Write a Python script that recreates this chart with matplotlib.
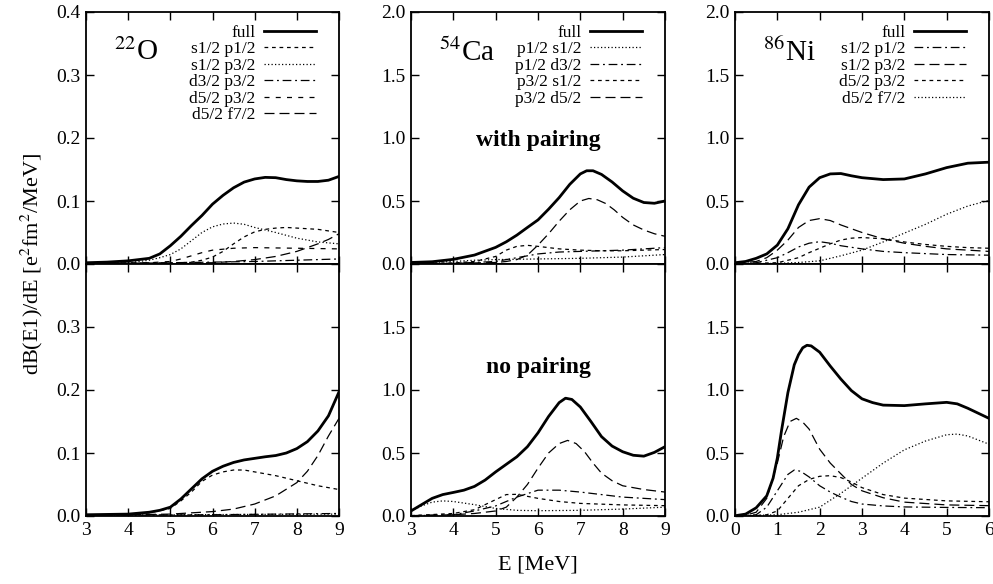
import matplotlib
matplotlib.use("Agg")
import matplotlib.pyplot as plt

plt.rcParams['font.family'] = ['Liberation Serif', 'DejaVu Serif']
plt.rcParams['mathtext.fontset'] = 'stix'

# ---- data: (E [MeV], dB/dE) ----
# 22O, with pairing
o22_p_full = [(3, 0.002), (3.5, 0.003), (4, 0.005), (4.5, 0.009), (4.75, 0.016), (5, 0.029), (5.25, 0.044),
              (5.5, 0.061), (5.75, 0.077), (6, 0.095), (6.25, 0.109), (6.5, 0.121), (6.75, 0.130), (7, 0.135),
              (7.25, 0.1375), (7.5, 0.137), (7.75, 0.134), (8, 0.132), (8.25, 0.131), (8.5, 0.131),
              (8.75, 0.133), (9, 0.139)]
o22_p_s12p12 = [(3, 0.001), (5, 0.001), (5.5, 0.003), (5.75, 0.006), (6, 0.011), (6.25, 0.02), (6.5, 0.032),
                (6.75, 0.043), (7, 0.051), (7.25, 0.055), (7.5, 0.057), (7.75, 0.058), (8, 0.057), (8.5, 0.055),
                (9, 0.05)]
o22_p_s12p32 = [(3, 0.001), (4, 0.002), (4.5, 0.006), (4.75, 0.01), (5, 0.015), (5.25, 0.024), (5.5, 0.037),
                (5.75, 0.05), (6, 0.059), (6.25, 0.0635), (6.5, 0.065), (6.75, 0.063), (7, 0.058), (7.5, 0.05),
                (8, 0.041), (8.5, 0.035), (9, 0.032)]
o22_p_d32p32 = [(3, 0.001), (5, 0.002), (6, 0.003), (7, 0.004), (8, 0.006), (9, 0.008)]
o22_p_d52p32 = [(3, 0.001), (4.5, 0.002), (5, 0.004), (5.25, 0.008), (5.5, 0.013), (5.75, 0.018), (6, 0.022),
                (6.5, 0.025), (7, 0.026), (8, 0.025), (9, 0.024)]
o22_p_d52f72 = [(3, 0.001), (6, 0.002), (6.5, 0.004), (7, 0.007), (7.5, 0.012), (8, 0.02), (8.5, 0.032),
                (8.75, 0.039), (9, 0.048)]

# 22O, no pairing
o22_n_full = [(3, 0.002), (4, 0.003), (4.5, 0.006), (4.75, 0.009), (5, 0.014), (5.25, 0.027), (5.5, 0.043),
              (5.75, 0.059), (6, 0.071), (6.25, 0.079), (6.5, 0.085), (6.75, 0.089), (7, 0.0915), (7.25, 0.094),
              (7.5, 0.096), (7.75, 0.1), (8, 0.107), (8.25, 0.118), (8.5, 0.135), (8.75, 0.159), (9, 0.197)]
o22_n_s12p32 = [(3, 0.001), (4, 0.002), (4.5, 0.005), (5, 0.012), (5.25, 0.024), (5.5, 0.038), (5.75, 0.055),
                (6, 0.065), (6.25, 0.07), (6.5, 0.073), (6.75, 0.073), (7, 0.07), (7.5, 0.064), (8, 0.056),
                (8.5, 0.048), (9, 0.042)]
o22_n_d52f72 = [(3, 0.001), (5, 0.003), (6, 0.007), (6.5, 0.011), (7, 0.019), (7.5, 0.032), (8, 0.053),
                (8.25, 0.071), (8.5, 0.096), (8.75, 0.127), (9, 0.155)]
o22_n_d32p32 = [(3, 0.001), (6, 0.002), (9, 0.004)]
o22_n_s12p12 = [(3, 0.001), (5, 0.002), (9, 0.003)]

# 54Ca, with pairing
ca54_p_full = [(3, 0.012), (3.5, 0.018), (4, 0.037), (4.5, 0.071), (5, 0.132), (5.25, 0.176), (5.5, 0.229),
               (5.75, 0.29), (6, 0.35), (6.25, 0.435), (6.5, 0.527), (6.75, 0.632), (7, 0.715), (7.15, 0.74),
               (7.3, 0.74), (7.5, 0.711), (7.75, 0.651), (8, 0.58), (8.25, 0.522), (8.5, 0.488), (8.75, 0.482),
               (9, 0.5)]
ca54_p_p12s12 = [(3, 0.005), (4, 0.02), (4.5, 0.03), (5, 0.035), (6, 0.04), (7, 0.045), (8, 0.055), (9, 0.075)]
ca54_p_p12d32 = [(3, 0.002), (4, 0.005), (5, 0.02), (5.5, 0.05), (6, 0.08), (6.5, 0.095), (7, 0.1), (7.5, 0.105),
                 (8, 0.11), (8.5, 0.12), (9, 0.13)]
ca54_p_p32s12 = [(3, 0.002), (4, 0.008), (4.5, 0.02), (5, 0.06), (5.25, 0.11), (5.5, 0.14), (5.75, 0.148),
                 (6, 0.14), (6.5, 0.12), (7, 0.11), (7.5, 0.105), (8, 0.105), (8.5, 0.11), (9, 0.115)]
ca54_p_p32d52 = [(3, 0.003), (4, 0.005), (5, 0.012), (5.25, 0.02), (5.5, 0.035), (5.75, 0.07), (6, 0.15),
                 (6.25, 0.24), (6.5, 0.34), (6.75, 0.43), (7, 0.5), (7.2, 0.52), (7.4, 0.51), (7.6, 0.48),
                 (7.8, 0.43), (8, 0.37), (8.25, 0.31), (8.5, 0.27), (8.75, 0.24), (9, 0.22)]

# 54Ca, no pairing
ca54_n_full = [(3, 0.04), (3.25, 0.09), (3.5, 0.14), (3.75, 0.17), (4, 0.187), (4.25, 0.205), (4.5, 0.235),
               (4.75, 0.285), (5, 0.35), (5.25, 0.41), (5.5, 0.47), (5.75, 0.55), (6, 0.66), (6.25, 0.79),
               (6.5, 0.9), (6.65, 0.935), (6.8, 0.925), (7, 0.865), (7.25, 0.75), (7.5, 0.63), (7.75, 0.555),
               (8, 0.51), (8.25, 0.482), (8.5, 0.475), (8.75, 0.505), (9, 0.55)]
ca54_n_p12s12 = [(3, 0.04), (3.25, 0.08), (3.5, 0.11), (3.75, 0.12), (4, 0.115), (4.5, 0.09), (5, 0.06),
                 (5.5, 0.045), (6, 0.042), (7, 0.045), (8, 0.055), (9, 0.07)]
ca54_n_p12d32 = [(3, 0.002), (4, 0.01), (4.5, 0.04), (5, 0.08), (5.5, 0.15), (6, 0.205), (6.5, 0.205), (7, 0.19),
                 (8, 0.15), (9, 0.13)]
ca54_n_p32s12 = [(3, 0.003), (4, 0.02), (4.5, 0.05), (5, 0.13), (5.25, 0.17), (5.5, 0.172), (6, 0.14),
                 (6.5, 0.115), (7, 0.1), (8, 0.088), (9, 0.082)]
ca54_n_p32d52 = [(3, 0.003), (4, 0.01), (4.5, 0.02), (5, 0.04), (5.25, 0.07), (5.5, 0.15), (5.75, 0.25),
                 (6, 0.38), (6.25, 0.5), (6.5, 0.575), (6.7, 0.6), (6.9, 0.575), (7.1, 0.51), (7.3, 0.42),
                 (7.5, 0.34), (7.75, 0.28), (8, 0.24), (8.5, 0.21), (9, 0.19)]

# 86Ni, with pairing
ni86_p_full = [(0, 0.01), (0.25, 0.02), (0.5, 0.045), (0.75, 0.08), (1, 0.15), (1.25, 0.28), (1.5, 0.47),
               (1.75, 0.61), (2, 0.685), (2.25, 0.715), (2.5, 0.718), (2.75, 0.7), (3, 0.685), (3.5, 0.67),
               (4, 0.675), (4.5, 0.715), (5, 0.765), (5.5, 0.8), (6, 0.808)]
ni86_p_s12p12 = [(0, 0.003), (0.5, 0.01), (1, 0.05), (1.25, 0.09), (1.5, 0.135), (1.75, 0.165), (2, 0.177),
                 (2.25, 0.165), (2.5, 0.145), (3, 0.12), (3.5, 0.1), (4, 0.09), (5, 0.075), (6, 0.07)]
ni86_p_s12p32 = [(0, 0.005), (0.5, 0.02), (0.75, 0.05), (1, 0.11), (1.25, 0.19), (1.5, 0.29), (1.75, 0.345),
                 (2, 0.36), (2.25, 0.345), (2.5, 0.31), (3, 0.25), (3.5, 0.2), (4, 0.165), (4.5, 0.14),
                 (5, 0.12), (5.5, 0.11), (6, 0.1)]
ni86_p_d52p32 = [(0, 0.002), (1, 0.01), (1.5, 0.05), (1.75, 0.09), (2, 0.125), (2.25, 0.16), (2.5, 0.19),
                 (2.75, 0.205), (3, 0.21), (3.5, 0.2), (4, 0.175), (4.5, 0.155), (5, 0.14), (5.5, 0.13),
                 (6, 0.125)]
ni86_p_d52f72 = [(0, 0.0), (1, 0.005), (1.5, 0.012), (2, 0.025), (2.5, 0.065), (3, 0.11), (3.5, 0.175),
                 (4, 0.245), (4.5, 0.315), (5, 0.395), (5.5, 0.46), (6, 0.505)]

# 86Ni, no pairing
ni86_n_full = [(0, 0.002), (0.25, 0.015), (0.5, 0.065), (0.75, 0.16), (0.9, 0.3), (1, 0.46), (1.1, 0.68),
               (1.25, 0.98), (1.4, 1.2), (1.5, 1.28), (1.6, 1.335), (1.7, 1.355), (1.8, 1.35), (2, 1.3),
               (2.25, 1.19), (2.5, 1.087), (2.75, 0.995), (3, 0.93), (3.25, 0.9), (3.5, 0.88), (4, 0.876),
               (4.5, 0.89), (5, 0.902), (5.25, 0.89), (5.5, 0.855), (5.75, 0.815), (6, 0.775)]
ni86_n_s12p12 = [(0, 0.001), (0.5, 0.01), (0.75, 0.07), (1, 0.2), (1.25, 0.33), (1.4, 0.365), (1.55, 0.355),
                 (1.75, 0.31), (2, 0.24), (2.25, 0.19), (2.5, 0.15), (2.75, 0.115), (3, 0.095), (3.5, 0.08),
                 (4, 0.072), (5, 0.068), (6, 0.066)]
ni86_n_s12p32 = [(0, 0.002), (0.25, 0.006), (0.5, 0.03), (0.75, 0.14), (1, 0.42), (1.15, 0.63), (1.3, 0.75),
                 (1.45, 0.775), (1.6, 0.745), (1.75, 0.69), (2, 0.53), (2.25, 0.42), (2.5, 0.335), (2.75, 0.25),
                 (3, 0.2), (3.5, 0.145), (4, 0.11), (5, 0.088), (6, 0.082)]
ni86_n_d52p32 = [(0, 0.0), (0.5, 0.003), (0.75, 0.01), (1, 0.04), (1.25, 0.14), (1.5, 0.24), (1.75, 0.29),
                 (2, 0.315), (2.25, 0.32), (2.5, 0.305), (2.75, 0.27), (3, 0.225), (3.5, 0.17), (4, 0.142),
                 (5, 0.12), (6, 0.113)]
ni86_n_d52f72 = [(0, 0.0), (1, 0.01), (1.5, 0.03), (2, 0.07), (2.5, 0.18), (3, 0.3), (3.5, 0.42), (4, 0.525),
                 (4.5, 0.595), (5, 0.645), (5.25, 0.65), (5.5, 0.635), (6, 0.57)]

# line styles
FULL = dict(color='k', lw=2.0, ls='-')
SDASH = dict(color='k', lw=0.9, ls=(0, (3, 3)))
SDASH2 = dict(color='k', lw=0.9, ls=(0, (4, 5)))
DOT = dict(color='k', lw=0.9, ls=(0, (1, 1.8)))
DASHDOT = dict(color='k', lw=0.9, ls=(0, (7, 3, 1.5, 3)))
LDASH = dict(color='k', lw=0.9, ls=(0, (8, 4)))


def draw(ax, curves):
    for data, style, label in curves:
        e, y = zip(*data)
        ax.plot(e, y, label=label, **style)


fig = plt.figure(figsize=(9.93, 5.84), dpi=100)
W, H = 993.0, 584.0
cols = [(86, 253), (411, 254), (735, 254)]
rows = [(12, 252), (264, 252)]
axes = {}
for r, (ytop, h) in enumerate(rows):
    for c, (x0, w) in enumerate(cols):
        axes[(r, c)] = fig.add_axes([x0 / W, 1 - (ytop + h) / H, w / W, h / H])

draw(axes[(0, 0)], [(o22_p_full, FULL, 'full'), (o22_p_s12p12, SDASH, 's1/2 p1/2'),
                    (o22_p_s12p32, DOT, 's1/2 p3/2'), (o22_p_d32p32, DASHDOT, 'd3/2 p3/2'),
                    (o22_p_d52p32, SDASH2, 'd5/2 p3/2'), (o22_p_d52f72, LDASH, 'd5/2 f7/2')])
draw(axes[(1, 0)], [(o22_n_full, FULL, None), (o22_n_s12p12, DOT, None), (o22_n_s12p32, SDASH, None),
                    (o22_n_d32p32, DASHDOT, None), (o22_n_d52f72, LDASH, None)])
draw(axes[(0, 1)], [(ca54_p_full, FULL, 'full'), (ca54_p_p12s12, DOT, 'p1/2 s1/2'),
                    (ca54_p_p12d32, DASHDOT, 'p1/2 d3/2'), (ca54_p_p32s12, SDASH, 'p3/2 s1/2'),
                    (ca54_p_p32d52, LDASH, 'p3/2 d5/2')])
draw(axes[(1, 1)], [(ca54_n_full, FULL, None), (ca54_n_p12s12, DOT, None), (ca54_n_p12d32, DASHDOT, None),
                    (ca54_n_p32s12, SDASH, None), (ca54_n_p32d52, LDASH, None)])
draw(axes[(0, 2)], [(ni86_p_full, FULL, 'full'), (ni86_p_s12p12, DASHDOT, 's1/2 p1/2'),
                    (ni86_p_s12p32, LDASH, 's1/2 p3/2'), (ni86_p_d52p32, SDASH, 'd5/2 p3/2'),
                    (ni86_p_d52f72, DOT, 'd5/2 f7/2')])
draw(axes[(1, 2)], [(ni86_n_full, FULL, None), (ni86_n_s12p12, DASHDOT, None), (ni86_n_s12p32, LDASH, None),
                    (ni86_n_d52p32, SDASH, None), (ni86_n_d52f72, DOT, None)])

xlims = [(3, 9), (3, 9), (0, 6)]
ymaxs = [0.4, 2.0, 2.0]
ysteps = [0.1, 0.5, 0.5]
for (r, c), ax in axes.items():
    ax.set_xlim(*xlims[c])
    ax.set_ylim(0, ymaxs[c])
    ax.set_xticks(range(xlims[c][0], xlims[c][1] + 1))
    n = int(round(ymaxs[c] / ysteps[c]))
    ticks = [i * ysteps[c] for i in range(n + 1)]
    ax.set_yticks(ticks)
    labs = ['%.1f' % t for t in ticks]
    if r == 1:
        labs[-1] = ''
    ax.set_yticklabels(labs)
    if r == 0:
        ax.set_xticklabels([])
    ax.tick_params(direction='in', top=True, right=True, length=6, width=1.0, labelsize=14, pad=4)
    for s in ax.spines.values():
        s.set_linewidth(1.3)
    if r == 0:
        ax.legend(loc='upper right', bbox_to_anchor=(0.965, 1.005), frameon=False, markerfirst=False,
                  fontsize=12.5, handlelength=3.0, labelspacing=0.02, handletextpad=0.5, borderpad=0.3)

iso = ['$^{22}$O', '$^{54}$Ca', '$^{86}$Ni']
for c in range(3):
    axes[(0, c)].text(0.11, 0.84, iso[c], transform=axes[(0, c)].transAxes, fontsize=21, va='center')

axes[(0, 1)].text(0.5, 0.49, 'with pairing', transform=axes[(0, 1)].transAxes, fontsize=17,
                  fontweight='bold', ha='center', va='center')
axes[(1, 1)].text(0.5, 0.59, 'no pairing', transform=axes[(1, 1)].transAxes, fontsize=17,
                  fontweight='bold', ha='center', va='center')

fig.text(32 / W, 1 - 264 / H, 'dB(E1)/dE [e$^2$fm$^2$/MeV]', rotation=90, fontsize=16, ha='center', va='center')
fig.text(538 / W, 1 - 565 / H, 'E [MeV]', fontsize=16, ha='center', va='center')

fig.savefig('out.png', dpi=100)
